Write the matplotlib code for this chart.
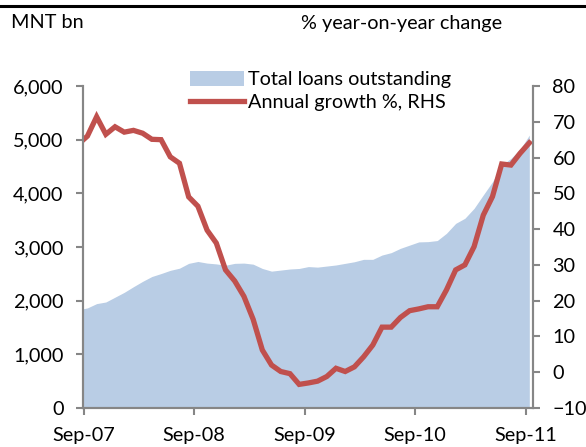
import matplotlib
matplotlib.use("Agg")
import matplotlib.pyplot as plt
from matplotlib.lines import Line2D
from matplotlib.patches import Patch
import numpy as np

# months from Aug-07 (-1) to Sep-11 (48), Sep-07 = 0
months = list(range(-1, 49))

# total loans outstanding, MNT bn
loans = [1830, 1865, 1945, 1975, 2065, 2155, 2260, 2360, 2450, 2505,
         2565, 2605, 2695, 2730, 2700, 2685, 2660, 2695, 2700, 2680,
         2600, 2550, 2570, 2590, 2600, 2635, 2625, 2645, 2665, 2695,
         2725, 2770, 2770, 2850, 2895, 2975, 3035, 3095, 3100, 3120,
         3255, 3440, 3535, 3720, 3970, 4215, 4525, 4650, 4820, 5085]

# annual growth %, RHS
growth = [63.7, 66.0, 71.4, 66.5, 68.6, 67.1, 67.6, 66.8, 65.1, 65.0,
          60.2, 58.4, 49.0, 46.4, 39.7, 36.1, 28.6, 25.5, 21.2, 14.8,
          6.2, 2.0, 0.2, -0.4, -3.4, -3.0, -2.5, -1.2, 1.1, 0.2,
          1.5, 4.3, 7.6, 12.6, 12.6, 15.3, 17.2, 17.7, 18.3, 18.3,
          23.0, 28.6, 30.0, 35.1, 43.9, 49.1, 58.2, 57.9, 61.2, 64.1]

tick_pos = [0, 12, 24, 36, 48]
tick_labels = ["Sep-07", "Sep-08", "Sep-09", "Sep-10", "Sep-11"]

plt.rcParams['font.family'] = ['Lato', 'DejaVu Sans']
fs = 14.3
grey = "#868686"
blue = "#B9CDE5"
red = "#C0504D"

W, H = 586, 447
fig = plt.figure(figsize=(W / 100, H / 100), dpi=100)
ax = fig.add_axes([83 / W, 1 - 408 / H, (533 - 83) / W, (408 - 86) / H])
ax2 = ax.twinx()

# data points sit mid-month
x = np.array(months) + 0.4
ax.fill_between(x, loans, 0, color=blue, lw=0)
ax2.plot(x, growth, color=red, lw=3.8, solid_joinstyle='miter')

ax.set_xlim(-0.08, 48.8)
ax.set_ylim(0, 6000)
ax2.set_ylim(-10, 80)
ax.set_yticks(range(0, 6001, 1000))
ax.set_yticklabels(["{:,}".format(v) for v in range(0, 6001, 1000)])
ax2.set_yticks(range(-10, 81, 10))
ax.set_xticks(tick_pos)
ax.set_xticklabels(tick_labels)

for a in (ax, ax2):
    a.spines['top'].set_visible(False)
    for s in ('left', 'right', 'bottom'):
        a.spines[s].set_color(grey)
        a.spines[s].set_linewidth(1.5)
    a.tick_params(colors=grey, labelcolor='black', labelsize=fs,
                  width=1.5, length=5, pad=9)

# legend
handles = [Patch(facecolor=blue, edgecolor='none'),
           Line2D([], [], color=red, lw=3.8)]
labels = ["Total loans outstanding", "Annual growth %, RHS"]
ax2.legend(handles, labels, loc='upper left', frameon=False, fontsize=fs,
           bbox_to_anchor=(190 / W, 1 - 71 / H), bbox_transform=fig.transFigure,
           borderpad=0, borderaxespad=0, handlelength=2.7, handleheight=0.8,
           handletextpad=0.23, labelspacing=0.26)

fig.text(11 / W, 1 - 23 / H, "MNT bn", fontsize=fs, va='center', ha='left')
fig.text(301 / W, 1 - 23 / H, "% year-on-year change", fontsize=fs,
         va='center', ha='left')
fig.add_artist(Line2D([0, 1], [1 - 6 / H, 1 - 6 / H], color='black', lw=2.2,
                      transform=fig.transFigure))

fig.savefig("out.png", dpi=100)
